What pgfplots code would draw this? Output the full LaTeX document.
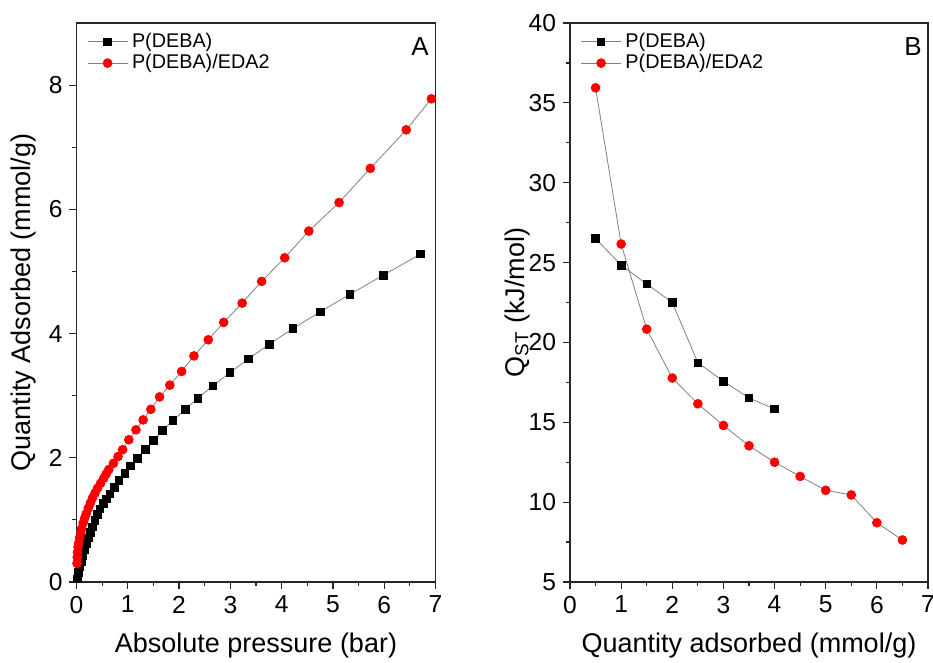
\documentclass[border=0pt]{standalone}
\usepackage{fontspec}
\setmainfont{Liberation Sans}
\usepackage{pgfplots}
\pgfplotsset{compat=1.18}
\definecolor{lgray}{RGB}{128,128,128}
\begin{document}
\begin{tikzpicture}
\path[use as bounding box] (0,0) rectangle (466.5pt,331.5pt);
\pgfplotsset{
 mystyle/.style={
  scale only axis, width=179.5pt, height=279.5pt, anchor=south west,
  axis line style={line width=0.75pt, black!85},
  tick align=outside, xtick pos=bottom, ytick pos=left,
  major tick length=3.5pt, minor tick length=2pt,
  tick style={line width=0.6pt, black!85},
  tick label style={font=\fontsize{12.3}{14}\selectfont},
  label style={font=\fontsize{13.5}{16}\selectfont},
  /pgf/number format/assume math mode=true,
  xmin=0, xmax=7, xtick={0,...,7}, minor x tick num=1,
  legend style={draw=none, fill=none, at={(0.012,0.997)}, anchor=north west,
    font=\fontsize{9.9}{11}\selectfont, row sep=-2pt},
  legend cell align=left,
  legend image code/.code={\draw[mark repeat=2,mark phase=2] plot coordinates {(0pt,0pt) (10pt,0pt) (20pt,0pt)};},
  xlabel style={at={(axis description cs:0.5,-0.113)}, anchor=center},
  ylabel style={at={(axis description cs:-0.148,0.5)}, anchor=center},
 },
 sq/.style={color=lgray, line width=0.4pt, mark=square*, mark size=1.9pt, mark options={fill=black, draw=black}},
 ci/.style={color=lgray, line width=0.4pt, mark=*, mark size=2.2pt, mark options={fill=red, draw=red}},
}
\begin{axis}[mystyle, at={(38.25pt,40.5pt)},
  ymin=0, ymax=9, ytick={0,2,4,6,8}, minor y tick num=1,
  xlabel={Absolute pressure (bar)}, ylabel={Quantity Adsorbed (mmol/g)}]
\addplot[sq] coordinates {
(0.02,0.05) (0.04,0.15) (0.06,0.24) (0.09,0.33) (0.12,0.42) (0.15,0.52)
(0.19,0.62) (0.23,0.71) (0.27,0.80) (0.31,0.89) (0.36,0.99) (0.41,1.09)
(0.46,1.18) (0.52,1.27) (0.58,1.34) (0.65,1.42) (0.74,1.52) (0.83,1.64)
(0.94,1.75) (1.05,1.87) (1.19,1.99) (1.34,2.13) (1.50,2.28) (1.68,2.44)
(1.88,2.60) (2.12,2.78) (2.37,2.96) (2.66,3.16) (2.99,3.37) (3.35,3.59)
(3.76,3.83) (4.22,4.08) (4.75,4.35) (5.33,4.63) (5.98,4.94) (6.71,5.28)
};
\addlegendentry{P(DEBA)}
\addplot[ci] coordinates {
(0.01,0.30) (0.015,0.40) (0.02,0.48) (0.03,0.56) (0.04,0.62) (0.06,0.71)
(0.08,0.79) (0.10,0.86) (0.13,0.95) (0.16,1.03) (0.19,1.10) (0.23,1.19)
(0.27,1.27) (0.31,1.35) (0.36,1.43) (0.41,1.51) (0.47,1.59) (0.53,1.67)
(0.58,1.74) (0.63,1.81) (0.72,1.91) (0.81,2.02) (0.90,2.13) (1.02,2.29)
(1.16,2.45) (1.30,2.61) (1.45,2.78) (1.62,2.98) (1.82,3.17) (2.05,3.39)
(2.29,3.64) (2.57,3.90) (2.87,4.18) (3.23,4.49) (3.61,4.84) (4.06,5.22)
(4.53,5.65) (5.12,6.11) (5.73,6.66) (6.43,7.28) (6.92,7.78)
};
\addlegendentry{P(DEBA)/EDA2}
\node[font=\fontsize{13}{15}\selectfont] at (axis description cs:0.957,0.957) {A};
\end{axis}
\begin{axis}[mystyle, at={(285pt,40.5pt)}, width=179pt,
  ymin=5, ymax=40, ytick={5,10,...,40}, minor y tick num=1,
  xlabel={Quantity adsorbed (mmol/g)}, ylabel={Q\textsubscript{ST} (kJ/mol)}]
\addplot[sq] coordinates {
(0.5,26.50) (1.0,24.84) (1.5,23.66) (2.0,22.50) (2.5,18.73) (3.0,17.57)
(3.5,16.52) (4.0,15.83)
};
\addlegendentry{P(DEBA)}
\addplot[ci] coordinates {
(0.5,35.94) (1.0,26.16) (1.5,20.83) (2.0,17.77) (2.5,16.16) (3.0,14.80)
(3.5,13.53) (4.0,12.50) (4.5,11.61) (5.0,10.74) (5.5,10.45) (6.0,8.71)
(6.5,7.63)
};
\addlegendentry{P(DEBA)/EDA2}
\node[font=\fontsize{13}{15}\selectfont] at (axis description cs:0.958,0.957) {B};
\end{axis}
\end{tikzpicture}
\end{document}
